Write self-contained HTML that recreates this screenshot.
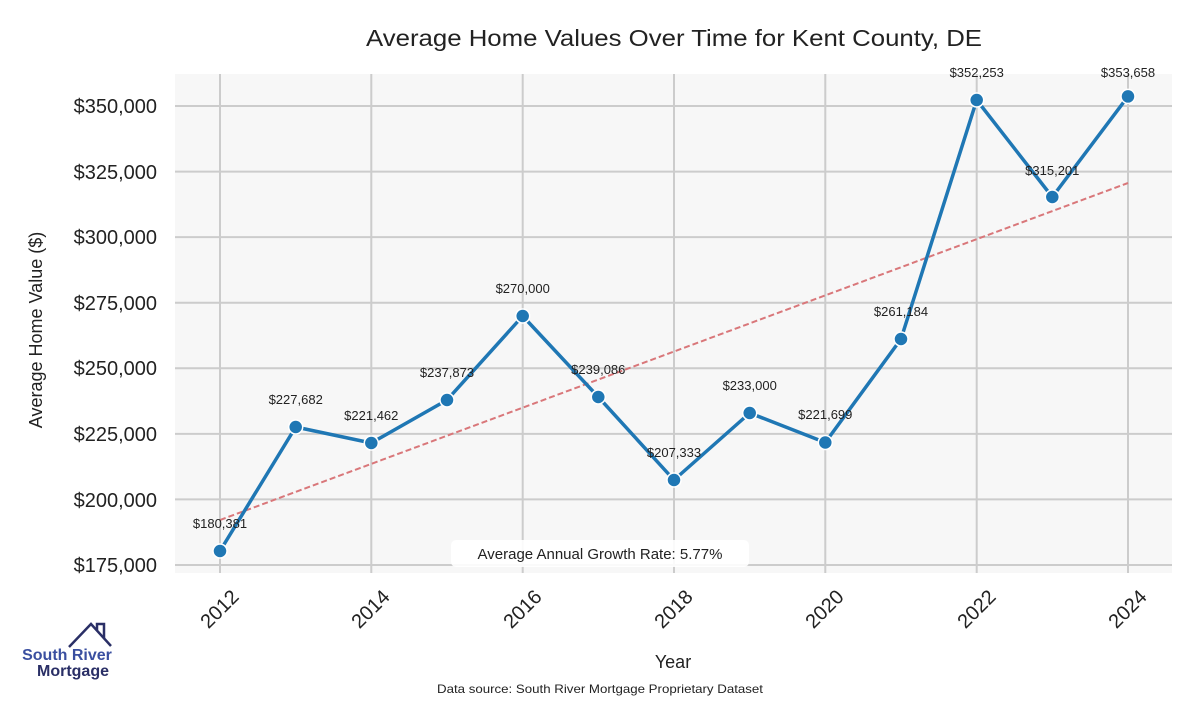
<!DOCTYPE html>
<html><head><style>
body{margin:0;background:#fff;}
svg text{font-family:"Liberation Sans",sans-serif;}
</style></head><body>
<svg width="1200" height="700" viewBox="0 0 1200 700" xmlns="http://www.w3.org/2000/svg">
<rect width="1200" height="700" fill="#fff"/>
<rect x="175" y="74" width="997" height="499" fill="#f7f7f7"/>
<g stroke="#cccccc" stroke-width="2">
<line x1="175" x2="1172" y1="106" y2="106"/>
<line x1="175" x2="1172" y1="171.6" y2="171.6"/>
<line x1="175" x2="1172" y1="237.1" y2="237.1"/>
<line x1="175" x2="1172" y1="302.7" y2="302.7"/>
<line x1="175" x2="1172" y1="368.3" y2="368.3"/>
<line x1="175" x2="1172" y1="433.9" y2="433.9"/>
<line x1="175" x2="1172" y1="499.4" y2="499.4"/>
<line x1="175" x2="1172" y1="565" y2="565"/>
<line y1="74" y2="573" x1="220" x2="220"/>
<line y1="74" y2="573" x1="371.3" x2="371.3"/>
<line y1="74" y2="573" x1="522.7" x2="522.7"/>
<line y1="74" y2="573" x1="674" x2="674"/>
<line y1="74" y2="573" x1="825.3" x2="825.3"/>
<line y1="74" y2="573" x1="976.7" x2="976.7"/>
<line y1="74" y2="573" x1="1128" x2="1128"/>
</g>
<line x1="220" y1="520" x2="1128" y2="183" stroke="#d9777a" stroke-width="2" stroke-dasharray="6,3"/>
<polyline fill="none" stroke="#1f77b4" stroke-width="3.5" stroke-linejoin="round" points="220,551 295.7,427 371.3,443 447,400 522.7,316 598.3,397 674,480 749.7,413 825.3,442.5 901,339 976.7,100 1052.3,197 1128,96.4"/>
<g fill="#1f77b4" stroke="#fff" stroke-width="1.5">
<circle cx="220" cy="551" r="7"/><circle cx="295.7" cy="427" r="7"/><circle cx="371.3" cy="443" r="7"/><circle cx="447" cy="400" r="7"/><circle cx="522.7" cy="316" r="7"/><circle cx="598.3" cy="397" r="7"/><circle cx="674" cy="480" r="7"/><circle cx="749.7" cy="413" r="7"/><circle cx="825.3" cy="442.5" r="7"/><circle cx="901" cy="339" r="7"/><circle cx="976.7" cy="100" r="7"/><circle cx="1052.3" cy="197" r="7"/><circle cx="1128" cy="96.4" r="7"/>
</g>
<g font-size="13" fill="#222" text-anchor="middle">
<text x="220" y="528">$180,381</text>
<text x="295.7" y="404">$227,682</text>
<text x="371.3" y="420">$221,462</text>
<text x="447" y="377">$237,873</text>
<text x="522.7" y="293">$270,000</text>
<text x="598.3" y="374">$239,086</text>
<text x="674" y="457">$207,333</text>
<text x="749.7" y="390">$233,000</text>
<text x="825.3" y="419">$221,699</text>
<text x="901" y="316">$261,184</text>
<text x="976.7" y="77">$352,253</text>
<text x="1052.3" y="175">$315,201</text>
<text x="1128" y="77">$353,658</text>
</g>
<rect x="451" y="540" width="298" height="27" rx="5" fill="#fff" opacity="0.9"/>
<text x="600" y="559" font-size="15" fill="#222" text-anchor="middle">Average Annual Growth Rate: 5.77%</text>
<g font-size="20" fill="#222" text-anchor="end">
<text x="157" y="113">$350,000</text>
<text x="157" y="179">$325,000</text>
<text x="157" y="244">$300,000</text>
<text x="157" y="310">$275,000</text>
<text x="157" y="375">$250,000</text>
<text x="157" y="441">$225,000</text>
<text x="157" y="507">$200,000</text>
<text x="157" y="572">$175,000</text>
</g>
<g font-size="20" fill="#222" text-anchor="end">
<text transform="translate(240,598) rotate(-45)">2012</text>
<text transform="translate(391,598) rotate(-45)">2014</text>
<text transform="translate(543,598) rotate(-45)">2016</text>
<text transform="translate(694,598) rotate(-45)">2018</text>
<text transform="translate(845,598) rotate(-45)">2020</text>
<text transform="translate(997,598) rotate(-45)">2022</text>
<text transform="translate(1148,598) rotate(-45)">2024</text>
</g>
<text x="673" y="668" font-size="18" fill="#222" text-anchor="middle">Year</text>
<text transform="translate(42,330) rotate(-90)" font-size="18" fill="#222" text-anchor="middle">Average Home Value ($)</text>
<text x="366" y="46" font-size="23" fill="#222" textLength="616" lengthAdjust="spacingAndGlyphs">Average Home Values Over Time for Kent County, DE</text>
<text x="437" y="693" font-size="12" fill="#222" textLength="326" lengthAdjust="spacingAndGlyphs">Data source: South River Mortgage Proprietary Dataset</text>
<polyline points="69,647 91,624 111,646" fill="none" stroke="#2a2f66" stroke-width="2.5"/>
<polyline points="97,630 97,624 104,624 104,638" fill="none" stroke="#2a2f66" stroke-width="2.5"/>
<text x="67" y="660" font-size="16" font-weight="bold" fill="#3a4fa0" text-anchor="middle">South River</text>
<text x="73" y="676" font-size="16" font-weight="bold" fill="#2a2f66" text-anchor="middle">Mortgage</text>
</svg>
</body></html>
